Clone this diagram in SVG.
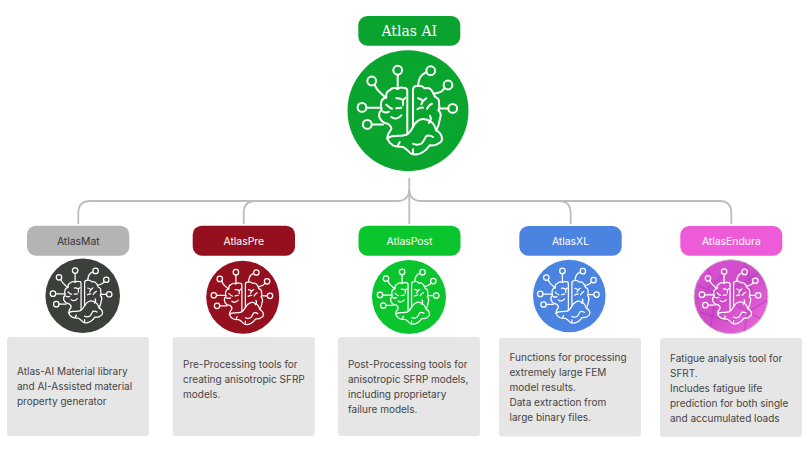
<svg xmlns="http://www.w3.org/2000/svg" width="808" height="449" viewBox="0 0 808 449">
<style>
.conn{fill:none;stroke:#bdbdbd;stroke-width:1.8}
.box{fill:#e6e6e6}
.lbl{font-family:Inter,"Liberation Sans",sans-serif;font-size:10.4px;text-anchor:middle;fill:#fff}
.txt{font-family:Inter,"Liberation Sans",sans-serif;font-size:10px;fill:#444}
.ico{fill:none;stroke:#fff;stroke-width:2;stroke-linecap:round;stroke-linejoin:round}
.vein{fill:none;stroke:#9a38bc;stroke-width:1.6;opacity:.4}
</style>
<defs>
<g id="brain" class="ico">
<circle cx="-10.3" cy="-40.5" r="4.4"/><circle cx="22.7" cy="-40" r="4.4"/><circle cx="-36.3" cy="-29.7" r="4.4"/><circle cx="40" cy="-25.7" r="4.4"/><circle cx="-46" cy="-3.3" r="4.4"/><circle cx="44.7" cy="-2.3" r="4.4"/><circle cx="-40.7" cy="13.7" r="4.4"/>
<path d="M-10.3-36V-22M18.4-38.5C14-37 10.5-33 10-25M-33.5-26.3C-31-19-26-17-22-13M36.5-23C34-18 31-18 25.5-17M-41.6-3H-26.5M40.3-2.3H31.5M-36.3 13.7H-25"/>
<path d="M-.7 23V-20Q-.7-23-5-23Q-8-23.5-10.3-21.7Q-15-24-18.3-20.5Q-22.5-19-21.7-13.5Q-27.5-12-27-5.5Q-27-2-26.3-.7Q-30 2-28.5 7Q-26 12.5-20 13Q-15.5 16.5-17 19Q-20.5 23-20.7 28"/>
<path d="M5 16V-20.7Q5-25 10-25Q14-25.5 16.7-22.4Q22-24 24.5-19Q26.5-17 26.7-14Q32-12.5 31-6.5Q32-3 30.3-.7Q34 3 32 8Q31 15 28.3 19.6"/>
<path d="M-20.7 28C-19.5 31-17 33.5-15 34.6C-11 36.5-8 36-5 36.3C-1 38 1 42 3.3 43C7 44.5 12 43.5 15 41.3C18 39.5 20 37 21.7 34.6C25 35 28 34.5 30 33C32.5 32 34 30 34 28C34 24.5 31 21 28.3 19.6C27 16 26 13 23.3 11.3C20 9 16 8 13.3 8.6C9 10 6.5 13 5 16.3C3 20 1 23-1.7 24C-5 25.5-10 25-13.3 25.3C-16 25.5-19 26-20.7 28Z"/>
<path d="M-11.7-12.4C-9-13-7-12-5-10.7M-5-10.7V-5.7M-5-10.7L-2.5-13M-11.7-2.4L-6.7-3M-21.7-6C-19.5-4-18-2.5-16-2M-16.7 6.3C-14 8.5-10 8.5-6.7 4.6M-25 1C-23 2-21 2-19 1M10-12.4C12-12 14-11 15-9.7M15-9.7L13.3-6.4M15-9.7L18.3-12.4M9.5-1.5C11-2.5 13-3.5 15-3M24-7C21-6 20-4 19-2M22 5C23 7 23 10 21 12M5 33C8 34.5 11 34 13.3 33C15.5 31.5 17 27 18.3 25.3C20 24.5 23 25 25 26.3M-8.3 31.3L-10 34.6M5 38.6V42"/>
</g>
<clipPath id="endClip"><circle cx="731" cy="296.7" r="36.5"/></clipPath>
<linearGradient id="endFill" x1="0" y1="0" x2="1" y2="1"><stop offset="0" stop-color="#d850d2"/><stop offset=".5" stop-color="#cf4cc8"/><stop offset="1" stop-color="#f06cdc"/></linearGradient>
</defs>
<g id="connectors" class="conn">
<path d="M409.3 178V224"/>
<path d="M78.3 224V213Q78.3 201 90.3 201H397Q409.3 201 409.3 189Q409.3 201 421.3 201H719.3Q731.3 201 731.3 213V224"/>
<path d="M243.7 224V213Q243.7 201 255.7 201"/>
<path d="M570.7 224V213Q570.7 201 558.7 201"/>
</g>
<g id="atlas-ai">
<rect x="358.3" y="16" width="102" height="29.7" rx="9" fill="#0aa32f"/>
<text x="409.3" y="36" font-family="'DejaVu Serif','Liberation Serif',serif" font-size="14" text-anchor="middle" fill="#fff">Atlas AI</text>
<circle cx="408" cy="110.7" r="60.5" fill="#0aa52f"/>
<use href="#brain" transform="translate(408 110.7)"/>
</g>
<g id="atlasmat">
<rect x="27" y="225.7" width="102.3" height="30" rx="9" fill="#b4b4b4"/>
<text class="lbl" x="78.3" y="245" style="fill:#333">AtlasMat</text>
<circle cx="82.7" cy="295.7" r="37.3" fill="#3b403b"/>
<use href="#brain" transform="translate(81.5 295.7) scale(.62)" style="stroke:#eee"/>
<rect class="box" x="7" y="337" width="142" height="99" rx="3"/>
<text class="txt"><tspan x="17" y="375">Atlas-AI Material library</tspan><tspan x="17" y="390">and AI-Assisted material</tspan><tspan x="17" y="405">property generator</tspan></text>
</g>
<g id="atlaspre">
<rect x="192.7" y="225.7" width="102.3" height="30" rx="9" fill="#95101e"/>
<text class="lbl" x="243.8" y="245">AtlasPre</text>
<circle cx="242.7" cy="297.3" r="36.5" fill="#95101e"/>
<use href="#brain" transform="translate(242.3 297.3) scale(.62)"/>
<rect class="box" x="172.7" y="337" width="142" height="99" rx="3"/>
<text class="txt"><tspan x="183" y="368">Pre-Processing tools for</tspan><tspan x="183" y="383">creating anisotropic SFRP</tspan><tspan x="183" y="398">models.</tspan></text>
</g>
<g id="atlaspost">
<rect x="358.5" y="225.7" width="102" height="30" rx="9" fill="#0ac52e"/>
<text class="lbl" x="409.5" y="245">AtlasPost</text>
<circle cx="409" cy="297" r="37" fill="#0ac52e"/>
<use href="#brain" transform="translate(408.5 297) scale(.62)"/>
<rect class="box" x="338" y="337" width="142" height="99" rx="3"/>
<text class="txt"><tspan x="348" y="368">Post-Processing tools for</tspan><tspan x="348" y="383">anisotropic SFRP models,</tspan><tspan x="348" y="398">including proprietary</tspan><tspan x="348" y="413">failure models.</tspan></text>
</g>
<g id="atlasxl">
<rect x="519.3" y="226" width="102.4" height="29.7" rx="9" fill="#4b84e0"/>
<text class="lbl" x="570.5" y="245">AtlasXL</text>
<circle cx="569.3" cy="296" r="36.3" fill="#4b84e0"/>
<use href="#brain" transform="translate(568.8 296) scale(.62)"/>
<rect class="box" x="499" y="338" width="142" height="98.5" rx="3"/>
<text class="txt"><tspan x="509.5" y="361">Functions for processing</tspan><tspan x="509.5" y="376">extremely large FEM</tspan><tspan x="509.5" y="391">model results.</tspan><tspan x="509.5" y="406">Data extraction from</tspan><tspan x="509.5" y="421">large binary files.</tspan></text>
</g>
<g id="atlasendura">
<rect x="680.3" y="226" width="102" height="29.7" rx="9" fill="#ee5bd8"/>
<text class="lbl" x="731.3" y="245">AtlasEndura</text>
<circle cx="731" cy="296.7" r="37" fill="url(#endFill)" stroke="#c9bcc6" stroke-width="1"/>
<g clip-path="url(#endClip)">
<path class="vein" d="M695 284L722 296L760 272M700 312L730 322L768 300M708 268L716 296L710 330M745 262L752 292L744 332M696 300L726 272M736 305L766 322"/>
</g>
<use href="#brain" transform="translate(730.5 296.7) scale(.62)" style="stroke:#e6dfe4"/>
<rect class="box" x="660" y="338" width="142" height="99" rx="3"/>
<text class="txt"><tspan x="670" y="361.5">Fatigue analysis tool for</tspan><tspan x="670" y="376.5">SFRT.</tspan><tspan x="670" y="391.5">Includes fatigue life</tspan><tspan x="670" y="406.5">prediction for both single</tspan><tspan x="670" y="421.5">and accumulated loads</tspan></text>
</g>
</svg>
